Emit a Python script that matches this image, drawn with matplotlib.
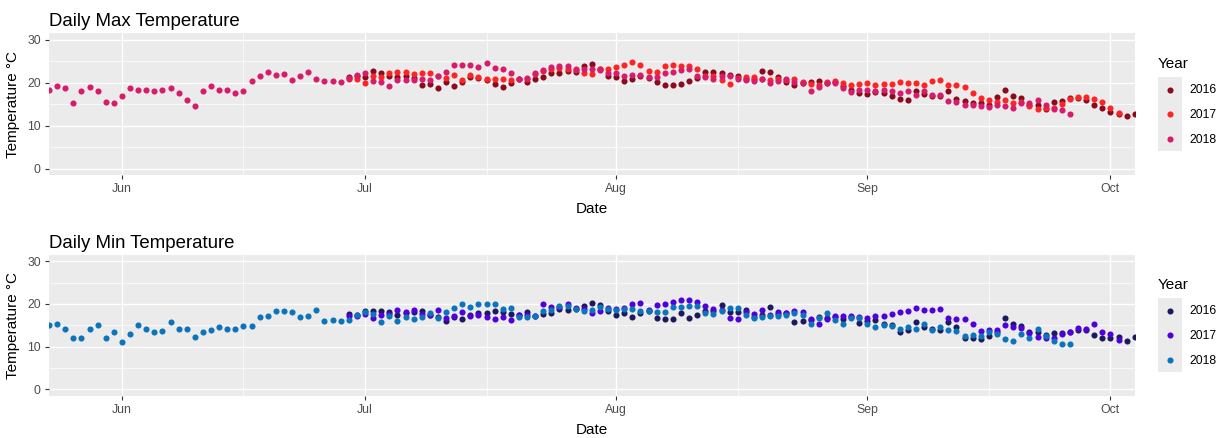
import pandas as pd
import matplotlib
matplotlib.use('Agg')
import matplotlib.pyplot as plt
import matplotlib.dates as mdates
from matplotlib.lines import Line2D
from matplotlib.patches import Rectangle
from matplotlib.legend_handler import HandlerBase

plt.rcParams['font.family'] = ['Liberation Sans', 'DejaVu Sans']

years = ['2016', '2017', '2018']
# first recorded day of each season, all put on one common calendar
start_days = {'2016': '06-29', '2017': '06-29', '2018': '05-23'}

# daily max temperature, one value per day from the start day
max_2016 = [21.4, 21.6,
            21.4, 22.8, 22.3, 21.6, 21.3, 21.6, 21.2, 19.5, 19.8, 18.8,
            20.2, 19.3, 20.2, 21.3, 21.0, 20.6, 19.8, 19.1, 20.0, 20.9,
            20.2, 20.9, 21.4, 22.2, 22.3, 22.7, 22.5, 23.8, 24.4, 23.3, 21.5,
            21.3, 20.3, 20.8, 21.6, 21.2, 20.2, 19.5, 19.5, 19.8, 20.3,
            21.2, 22.5, 22.6, 22.3, 21.8, 21.6, 20.8, 20.9, 22.7, 22.6,
            21.3, 20.2, 19.4, 20.0, 20.2, 20.3, 20.0, 20.2, 19.2, 18.4, 17.7,
            17.3, 17.8, 17.5, 17.0, 16.3, 15.9, 18.0, 17.3, 16.8, 17.0,
            18.0, 16.3, 15.8, 15.2, 15.3, 14.7, 16.6, 18.2, 16.8, 16.5,
            14.9, 14.8, 13.8, 15.5, 15.8, 16.5, 16.4, 16.0, 14.7, 14.0,
            13.1, 12.8, 12.3, 12.6]
max_2017 = [20.9, 20.9,
            20.0, 21.6, 21.3, 22.3, 22.4, 22.4, 22.0, 22.3, 22.3, 21.5,
            21.1, 21.8, 20.6, 21.8, 21.3, 20.8, 20.8, 20.8, 20.6, 20.9,
            20.9, 22.1, 22.7, 23.3, 23.4, 23.1, 23.1, 22.3, 22.0, 23.1, 23.1,
            23.7, 24.2, 24.8, 24.1, 22.7, 22.6, 23.8, 24.2, 23.8, 23.9,
            23.1, 21.6, 21.6, 20.6, 19.8, 21.1, 21.4, 21.3, 20.8, 20.6,
            20.8, 20.6, 20.8, 20.2, 19.8, 19.5, 20.2, 20.5, 20.0, 19.5, 19.8,
            19.9, 19.4, 19.8, 19.6, 20.2, 20.0, 20.0, 19.4, 20.5, 20.6,
            19.5, 19.5, 19.0, 17.6, 16.4, 15.9, 15.5, 16.0, 15.3, 15.5,
            14.5, 13.9, 14.0, 14.1, 15.0, 16.1, 16.6, 16.6, 16.3, 15.5,
            14.1, 13.0]
max_2018 = [18.3, 19.3, 18.7, 15.2, 18.1, 19.1, 18.1, 15.6, 15.2,
            17.0, 18.8, 18.3, 18.3, 18.0, 18.4, 18.8, 17.7, 15.9, 14.5,
            18.1, 19.3, 18.2, 18.3, 17.7, 18.0, 20.3, 21.6, 22.4, 21.8,
            22.0, 20.6, 21.5, 22.4, 20.9, 20.3, 20.5, 20.2, 21.1, 21.9,
            22.2, 20.4, 20.1, 19.2, 20.6, 20.6, 20.6, 20.9, 20.6, 21.5,
            22.5, 24.2, 24.2, 24.2, 23.7, 24.7, 23.5, 23.3, 22.2, 20.9,
            21.2, 22.3, 22.9, 23.7, 23.9, 24.0, 23.0, 23.1, 23.3, 22.9, 22.3,
            22.3, 21.5, 21.9, 21.7, 21.3, 21.4, 22.3, 22.5, 23.0, 23.1,
            21.5, 21.3, 20.9, 21.6, 21.6, 20.9, 20.6, 20.4, 20.8, 20.0,
            20.4, 20.8, 20.2, 20.0, 18.1, 19.1, 20.0, 20.0, 18.8, 17.9, 18.3,
            18.4, 18.0, 18.2, 18.0, 17.7, 18.0, 17.1, 18.0, 17.1, 17.1,
            15.7, 15.5, 14.8, 14.8, 14.5, 14.3, 14.8, 14.5, 14.0, 15.2,
            15.2, 15.9, 14.8, 13.8, 13.7, 12.7]

# daily min temperature
min_2016 = [17.6, 17.5,
            18.3, 18.4, 18.4, 18.1, 17.3, 17.9, 18.0, 18.4, 17.3, 17.0,
            15.9, 17.0, 16.5, 17.3, 17.8, 17.8, 18.4, 18.1, 17.7, 17.3,
            18.0, 17.2, 17.7, 17.9, 18.8, 18.7, 18.9, 19.5, 20.2, 19.8, 18.3,
            17.5, 17.9, 16.9, 17.8, 18.3, 16.6, 16.5, 16.5, 17.9, 16.6,
            17.5, 18.4, 18.4, 19.7, 18.2, 18.2, 18.6, 16.9, 17.4, 19.2,
            17.7, 17.8, 15.7, 15.9, 16.3, 16.9, 16.6, 16.9, 16.5, 16.9, 15.5,
            16.1, 16.2, 15.4, 15.0, 13.4, 14.0, 15.7, 14.5, 14.1, 13.8,
            15.7, 14.5, 12.0, 11.9, 11.8, 12.5, 13.4, 16.6, 15.2, 14.8,
            13.4, 13.4, 12.8, 13.1, 13.1, 13.4, 14.0, 14.0, 12.7, 12.0,
            11.9, 12.2, 11.3, 12.3]
min_2017 = [17.1, 17.1,
            17.6, 16.8, 17.4, 17.7, 18.5, 18.1, 18.5, 17.7, 17.5, 18.7,
            16.8, 17.2, 18.1, 17.1, 17.4, 17.0, 16.5, 16.9, 16.3, 17.4,
            17.3, 17.1, 20.0, 19.2, 19.2, 20.0, 19.1, 18.8, 17.8, 18.4, 19.1,
            18.8, 19.1, 20.0, 20.3, 18.6, 19.7, 20.0, 20.4, 21.0, 20.9,
            20.5, 19.5, 18.8, 18.6, 16.6, 16.5, 18.0, 17.7, 18.6, 17.3,
            18.0, 17.8, 18.4, 18.2, 16.5, 15.2, 16.4, 17.1, 17.2, 17.2, 16.9,
            16.6, 17.2, 17.1, 17.7, 18.1, 18.4, 19.1, 18.5, 18.7, 18.8,
            16.7, 16.5, 16.4, 15.4, 13.7, 14.0, 13.9, 15.0, 14.5, 14.3,
            13.1, 12.3, 12.1, 12.1, 12.9, 13.5, 14.4, 14.2, 15.2, 13.3,
            12.9, 11.5]
min_2018 = [15.0, 15.2, 14.1, 12.0, 12.0, 14.1, 15.1, 12.0, 13.4,
            11.0, 13.0, 15.1, 14.2, 13.4, 13.7, 15.7, 14.2, 14.2, 12.3,
            13.4, 13.8, 14.7, 14.1, 14.2, 14.8, 14.8, 16.9, 17.2, 18.4,
            18.4, 18.0, 17.0, 17.2, 18.5, 15.9, 16.3, 16.0, 16.2, 17.3,
            18.0, 17.7, 15.7, 17.2, 16.0, 17.0, 16.5, 16.9, 17.9, 16.8,
            18.2, 19.0, 20.0, 19.4, 20.0, 20.0, 19.9, 18.8, 19.1, 16.9,
            16.9, 17.1, 18.3, 18.7, 19.5, 19.5, 18.8, 18.3, 18.6, 19.4, 18.8,
            18.6, 18.8, 18.8, 18.3, 18.4, 18.2, 18.2, 19.4, 19.4, 19.6,
            19.6, 17.9, 17.7, 18.4, 19.1, 19.0, 17.3, 16.6, 17.0, 17.1,
            17.2, 17.5, 17.8, 17.3, 15.3, 16.7, 17.8, 16.2, 15.2, 16.6, 16.6,
            15.4, 14.7, 15.0, 14.8, 14.1, 14.6, 14.1, 15.3, 13.9, 14.6,
            14.0, 13.7, 12.5, 12.6, 12.4, 13.4, 13.0, 11.7, 11.3, 12.9,
            12.0, 14.2, 12.5, 11.3, 10.7, 10.7]

max_colors = ['#8b0a1e', '#ff2424', '#d81b6a']
min_colors = ['#1c1a5e', '#5000dc', '#0a74bd']

x_from, x_to = pd.Timestamp('2018-05-23'), pd.Timestamp('2018-10-04')


class KeyHandler(HandlerBase):
    # ggplot style key: grey square with the point in the middle
    def create_artists(self, legend, orig_handle, xdescent, ydescent,
                       width, height, fontsize, trans):
        bg = Rectangle((-xdescent, -ydescent), width, height,
                       facecolor='#EBEBEB', edgecolor='none', transform=trans)
        dot = Line2D([width / 2 - xdescent], [height / 2 - ydescent],
                     ls='none', marker='o', ms=4.4, mew=0,
                     color=orig_handle.get_color(), transform=trans)
        return [bg, dot]


def draw_panel(ax, series, colors, title):
    for yr, vals, col in zip(years, series, colors):
        days = pd.date_range('2018-' + start_days[yr], periods=len(vals))
        ax.plot(days, vals, ls='none', marker='o', ms=4.4, mew=0,
                color=col, zorder=3)

    ax.set_facecolor('#EBEBEB')
    for s in ax.spines.values():
        s.set_visible(False)
    ax.set_xlim(x_from, x_to)
    ax.set_ylim(-1.5, 31.5)
    ax.set_yticks([0, 10, 20, 30])
    ax.set_yticks([5, 15, 25], minor=True)
    ax.xaxis.set_major_locator(mdates.MonthLocator())
    ax.xaxis.set_major_formatter(mdates.DateFormatter('%b'))
    ax.xaxis.set_minor_locator(mdates.MonthLocator(bymonthday=16))
    ax.grid(which='major', color='white', lw=1.0)
    ax.grid(which='minor', color='white', lw=0.5)
    ax.set_axisbelow(True)
    ax.tick_params(which='major', length=2.9, width=0.8, color='#333333',
                   labelcolor='#4D4D4D', labelsize=8.8, pad=3)
    ax.tick_params(which='minor', length=0)

    ax.set_title(title, loc='left', fontsize=13.4, pad=5)
    ax.set_xlabel('Date', fontsize=11, labelpad=5)
    ax.set_ylabel('Temperature °C', fontsize=11, labelpad=5)

    handles = [Line2D([], [], color=c) for c in colors]
    leg = ax.legend(handles, years, title='Year',
                    handler_map={Line2D: KeyHandler()},
                    loc='center left', bbox_to_anchor=(1.021, 0.5),
                    frameon=False, fontsize=8.8, title_fontsize=11,
                    handlelength=2.02, handleheight=2.73, labelspacing=0,
                    handletextpad=0.6, borderpad=0, borderaxespad=0,
                    alignment='left')
    leg._legend_box.sep = 4.5  # gap between "Year" and the keys


fig = plt.figure(figsize=(12.31, 4.38), dpi=100)
ax_max = fig.add_axes([0.0398, 0.6005, 0.882, 0.3234])
ax_min = fig.add_axes([0.0398, 0.097, 0.882, 0.3208])

draw_panel(ax_max, [max_2016, max_2017, max_2018], max_colors,
           'Daily Max Temperature')
draw_panel(ax_min, [min_2016, min_2017, min_2018], min_colors,
           'Daily Min Temperature')

fig.savefig('out.png', dpi=100)
